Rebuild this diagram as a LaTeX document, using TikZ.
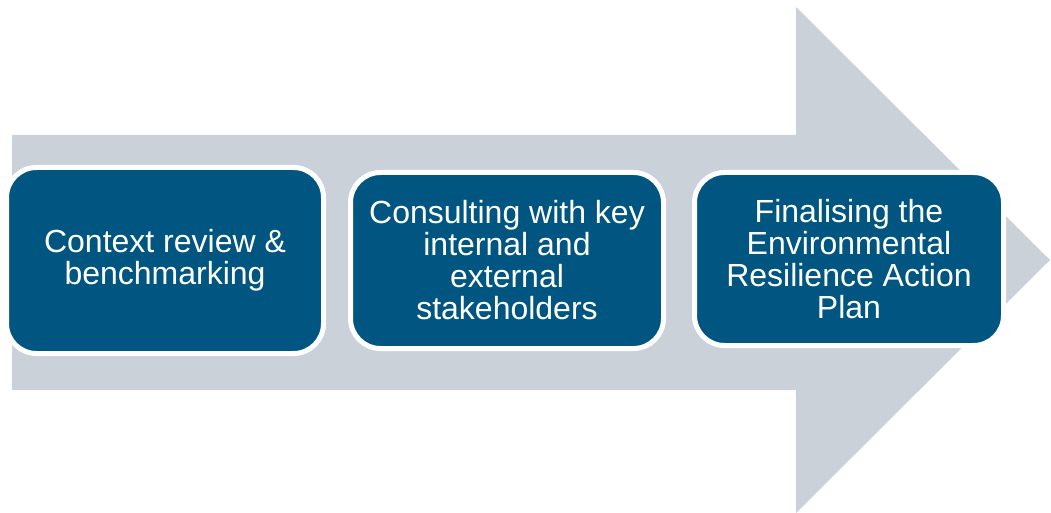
\documentclass[tikz,border=0pt]{standalone}
\usepackage{fontspec}
\setmainfont{Liberation Sans}
\usepackage{xcolor}
\usetikzlibrary{positioning}

\definecolor{stepblue}{RGB}{0,86,128}
\definecolor{arrowgrey}{RGB}{203,209,217}

\begin{document}
\begin{tikzpicture}[x=1pt, y=1pt, node distance=22pt,
    stagebox/.style={rectangle, rounded corners=30pt, draw=white, line width=5pt, fill=stepblue,
      text=white, align=center, font=\fontsize{32}{32}\selectfont}]
    \useasboundingbox (0,0) rectangle (1051,512);
    % big grey arrow behind the stages
    \fill[arrowgrey] (12,377) -- (796,377) -- (796,505) -- (1050,252) -- (796,-1) -- (796,122) -- (12,122) -- cycle;
    % the three stages
    \node[stagebox, minimum width=317pt, minimum height=186pt] (review) at (165,251.5) {Context review \&\\ benchmarking};
    \node[stagebox, minimum width=313pt, minimum height=176pt, right=22pt of review] (consult) {Consulting with key\\ internal and\\ external\\ stakeholders};
    \node[stagebox, minimum width=309pt, minimum height=173pt, right=26pt of consult, yshift=1.5pt] (finalise) {Finalising the\\ Environmental\\ Resilience Action\\ Plan};
\end{tikzpicture}
\end{document}
